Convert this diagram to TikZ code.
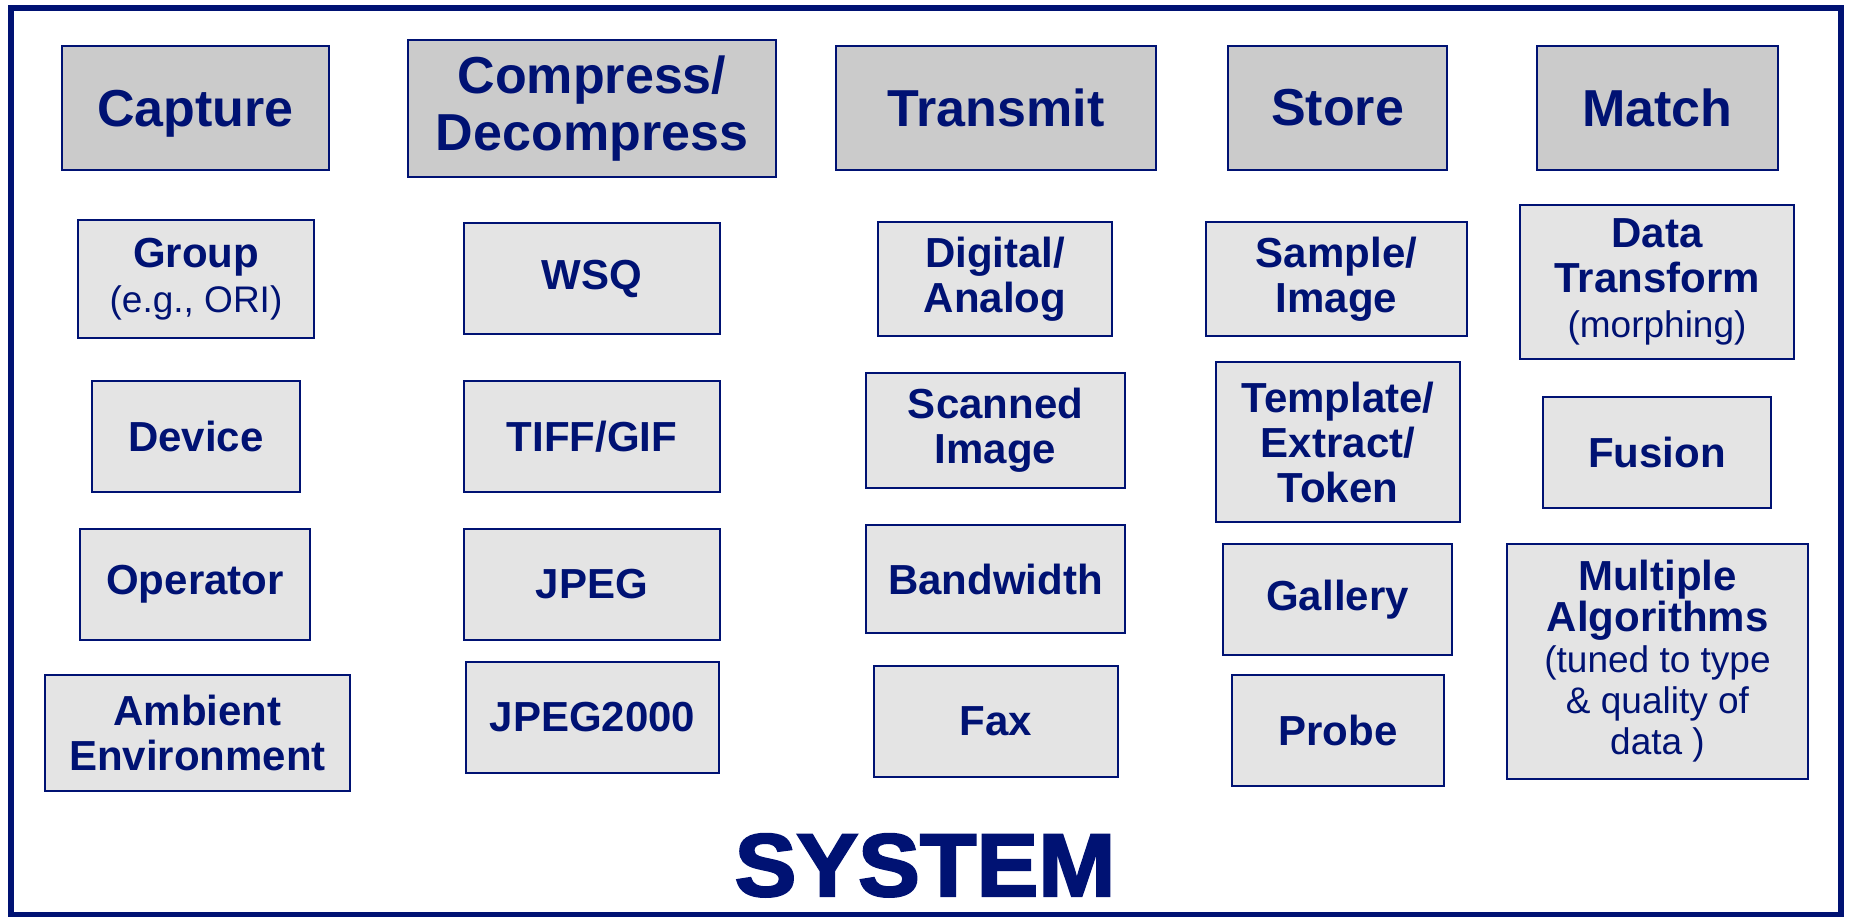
\documentclass[tikz,border=0pt]{standalone}
\usepackage{fontspec}
\setmainfont{Liberation Sans}
\newfontfamily\heavyfont{Liberation Sans Bold}[FakeBold=2.5]
\definecolor{sysblue}{RGB}{0,18,115}
\definecolor{hdrgray}{RGB}{203,203,203}
\definecolor{subgray}{RGB}{228,228,228}
\tikzset{
  boxbase/.style={draw=sysblue, line width=2, inner sep=0pt, text=sysblue, align=center},
  hdr/.style={boxbase, fill=hdrgray, font=\fontsize{52}{57}\selectfont\bfseries},
  sub/.style={boxbase, fill=subgray, font=\fontsize{42}{45}\selectfont\bfseries},
  wh/.style 2 args={minimum width=#1, minimum height=#2},
}
\newcommand{\rg}[1]{{\mdseries\fontsize{37}{43}\selectfont #1}}
\begin{document}
\begin{tikzpicture}[x=1pt,y=-1pt]
\useasboundingbox (0,0) rectangle (1851,917);
\draw[sysblue, line width=6] (11,8) rectangle (1841,915);
% headers
\node[hdr, wh={267}{124}, text depth=0pt] (cap) at (195.5,108) {Capture};
\node[hdr, wh={368}{137}] (comp) at (592,108.5) {Compress/\\Decompress};
\node[hdr, wh={320}{124}] (trans) at (996,108) {Transmit};
\node[hdr, wh={219}{124}] (store) at (1337.5,108) {Store};
\node[hdr, wh={241}{124}] (match) at (1657.5,108) {Match};
% capture column
\node[sub, wh={236}{118}] (group) at (196,279) {Group\\\rg{(e.g., ORI)}};
\node[sub, wh={208}{111}] (device) at (196,436.5) {Device};
\node[sub, wh={230}{111}] (operator) at (195,584.5) {Operator};
\node[sub, wh={305}{116}] (ambient) at (197.5,733) {Ambient\\Environment};
% compress column
\node[sub, wh={256}{111}] (wsq) at (592,278.5) {WSQ};
\node[sub, wh={256}{111}] (tiff) at (592,436.5) {TIFF/GIF};
\node[sub, wh={256}{111}] (jpeg) at (592,584.5) {JPEG};
\node[sub, wh={253}{111}] (jp2k) at (592.5,717.5) {JPEG2000};
% transmit column
\node[sub, wh={234}{114}] (digital) at (995,279) {Digital/\\Analog};
\node[sub, wh={259}{115}] (scanned) at (995.5,430.5) {Scanned\\Image};
\node[sub, wh={259}{108}] (bandwidth) at (995.5,579) {Bandwidth};
\node[sub, wh={244}{111}] (fax) at (996,721.5) {Fax};
% store column
\node[sub, wh={261}{114}] (sample) at (1336.5,279) {Sample/\\Image};
\node[sub, wh={244}{160}] (template) at (1338,442) {Template/\\Extract/\\Token};
\node[sub, wh={229}{111}] (gallery) at (1337.5,599.5) {Gallery};
\node[sub, wh={212}{111}] (probe) at (1338,730.5) {Probe};
% match column
\node[sub, wh={274}{154}] (datatr) at (1657,282) {Data\\Transform\\\rg{(morphing)}};
\node[sub, wh={228}{111}] (fusion) at (1657,452.5) {Fusion};
\node[sub, wh={301}{235}, font=\fontsize{42}{41}\selectfont\bfseries] (multi) at (1657.5,661.5) {Multiple\\Algorithms\\\rg{(tuned to type}\\\rg{\& quality of}\\\rg{data )}};
% title
\node[text=sysblue, font=\heavyfont\fontsize{89}{95}\selectfont, anchor=base, inner sep=0pt, xscale=1.04] (system) at (925,896) {SYSTEM};
\end{tikzpicture}
\end{document}
